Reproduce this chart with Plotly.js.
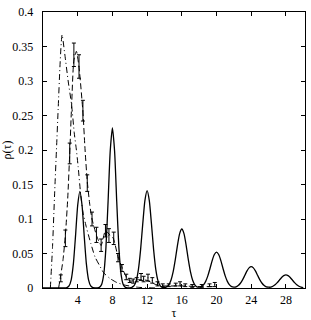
<!DOCTYPE html>
<html><head><meta charset="utf-8">
<script src="https://cdn.plot.ly/plotly-3.0.1.min.js"></script>
<style>html,body{margin:0;padding:0;background:#fff}</style>
</head><body>
<div id="chart" style="width:311px;height:320px"></div>
<script>
// Solid curve (sampled every 0.25 in tau)
var solidTau = [0,0.25,0.5,0.75,1,1.25,1.5,1.75,2,2.25,2.5,2.75,3,3.25,3.5,3.75,4,4.25,4.5,4.75,5,5.25,5.5,5.75,6,6.25,6.5,6.75,7,7.25,7.5,7.75,8,8.25,8.5,8.75,9,9.25,9.5,9.75,10,10.25,10.5,10.75,11,11.25,11.5,11.75,12,12.25,12.5,12.75,13,13.25,13.5,13.75,14,14.25,14.5,14.75,15,15.25,15.5,15.75,16,16.25,16.5,16.75,17,17.25,17.5,17.75,18,18.25,18.5,18.75,19,19.25,19.5,19.75,20,20.25,20.5,20.75,21,21.25,21.5,21.75,22,22.25,22.5,22.75,23,23.25,23.5,23.75,24,24.25,24.5,24.75,25,25.25,25.5,25.75,26,26.25,26.5,26.75,27,27.25,27.5,27.75,28,28.25,28.5,28.75,29,29.25,29.5,29.75,30];
var solidRho = [0,0,0,0,0,0,0,0,0,0,0,0.0005,0.0030,0.0119,0.0349,0.0755,0.120,0.140,0.120,0.0755,0.0349,0.0119,0.0030,0.0005,0.0001,0.0001,0.0009,0.0049,0.0197,0.0578,0.125,0.199,0.232,0.199,0.125,0.0578,0.0197,0.0049,0.0009,0.0001,0.0002,0.0009,0.0034,0.0107,0.0270,0.0556,0.0933,0.127,0.141,0.127,0.0933,0.0556,0.0270,0.0107,0.0034,0.0009,0.0007,0.0016,0.0046,0.0112,0.0233,0.0411,0.0618,0.0788,0.0855,0.0788,0.0618,0.0411,0.0233,0.0112,0.0046,0.0016,0.0012,0.0019,0.0046,0.0096,0.0176,0.0283,0.0397,0.0486,0.052,0.0486,0.0397,0.0283,0.0176,0.0096,0.0046,0.0019,0.0014,0.0016,0.0035,0.0069,0.0118,0.0180,0.0244,0.0292,0.031,0.0292,0.0244,0.0180,0.0118,0.0069,0.0035,0.0016,0.0012,0.0012,0.0026,0.0047,0.0078,0.0115,0.0152,0.0180,0.019,0.0180,0.0152,0.0115,0.0078,0.0047,0.0026,0.0012,0.0005];

// Dash-dot curve
var dashDotTau = [0.85,1.1,1.35,1.55,1.75,1.95,2.1,2.2,2.5,2.9,3.3,3.6,3.85,4.05,4.35,4.6,5.0,5.5,6.0,6.5,7.0,7.7,8.5,9.5,11,13];
var dashDotRho = [0,0.06,0.14,0.2,0.26,0.32,0.355,0.367,0.34,0.30,0.265,0.225,0.2,0.176,0.135,0.11,0.088,0.065,0.045,0.033,0.022,0.014,0.008,0.004,0.001,0];

// Dashed curve
var dashedTau = [1.8,2.0,2.3,2.6,2.85,3.08,3.3,3.56,3.85,4.15,4.6,4.85,5.1,5.4,5.65,6.2,6.7,7.2,7.7,8.1,8.65,9.1,9.6,10,11,12,13,14,16,18,20];
var dashedRho = [0,0.015,0.04,0.08,0.13,0.195,0.265,0.33,0.343,0.32,0.255,0.2,0.155,0.12,0.10,0.075,0.062,0.083,0.077,0.072,0.045,0.03,0.016,0.01,0.012,0.011,0.005,0.003,0.003,0.002,0.002];

// Measured points with error bars
var dataTau = [2.05,2.58,3.08,3.56,4.15,4.6,5.1,5.65,6.16,6.7,7.2,7.6,8.15,8.65,9.1,9.6,10.0,10.4,10.8,11.3,11.6,12.1,12.6,13.2,13.8,14.5,15.3,15.8,16.4,17.2,18.3,19.2,19.8];
var dataRho = [0.014,0.072,0.195,0.338,0.321,0.257,0.152,0.10,0.077,0.062,0.083,0.076,0.072,0.044,0.029,0.016,0.011,0.010,0.012,0.016,0.013,0.015,0.011,0.006,0.004,0.004,0.005,0.006,0.004,0.003,0.003,0.004,0.005];
var dataErr = [0.005,0.012,0.015,0.017,0.017,0.015,0.012,0.01,0.011,0.009,0.009,0.01,0.009,0.006,0.005,0.004,0.003,0.003,0.003,0.005,0.004,0.005,0.004,0.003,0.002,0.002,0.002,0.003,0.002,0.002,0.002,0.002,0.003];

var xTicks = [4,8,12,16,20,24,28];
var yTicks = [0,0.05,0.1,0.15,0.2,0.25,0.3,0.35,0.4];
var yTickText = ['0','0.05','0.1','0.15','0.2','0.25','0.3','0.35','0.4'];

var font = {family: 'Liberation Serif', size: 12, color: '#000'};

var traces = [
  {x: solidTau, y: solidRho, mode: 'lines', line: {color: '#000', width: 1.3, shape: 'spline', smoothing: 0.6}, hoverinfo: 'skip'},
  {x: dashDotTau, y: dashDotRho, mode: 'lines', line: {color: '#000', width: 1, dash: '6px,3px,1px,3px', shape: 'spline', smoothing: 0.6}, hoverinfo: 'skip'},
  {x: dashedTau, y: dashedRho, mode: 'lines', line: {color: '#000', width: 1, dash: '6px,3px', shape: 'spline', smoothing: 0.6}, hoverinfo: 'skip'},
  {x: dataTau, y: dataRho, mode: 'markers', marker: {size: 1, color: '#000'},
   error_y: {type: 'data', array: dataErr, visible: true, color: '#000', thickness: 1, width: 2}}
];

var layout = {
  width: 311, height: 320,
  margin: {l: 43, r: 6, t: 12, b: 32},
  paper_bgcolor: '#fff', plot_bgcolor: '#fff',
  showlegend: false,
  font: font,
  xaxis: {
    range: [0, 30.2], tickvals: xTicks, ticktext: xTicks.map(String),
    ticks: 'inside', ticklen: 4, tickwidth: 1, tickcolor: '#000',
    showline: true, linecolor: '#000', linewidth: 1.3, mirror: 'ticks',
    showgrid: false, zeroline: false, tickfont: font, ticklabelstandoff: 0,
    title: {text: 'τ', font: font, standoff: 0}
  },
  yaxis: {
    range: [0, 0.4], tickvals: yTicks, ticktext: yTickText,
    ticks: 'inside', ticklen: 4, tickwidth: 1, tickcolor: '#000',
    showline: true, linecolor: '#000', linewidth: 1.3, mirror: 'ticks',
    showgrid: false, zeroline: false, tickfont: font, ticklabelstandoff: 6,
    title: {text: 'ρ(τ)', font: font, standoff: 3}
  }
};

Plotly.newPlot('chart', traces, layout, {displayModeBar: false, staticPlot: true});
</script>
</body></html>
